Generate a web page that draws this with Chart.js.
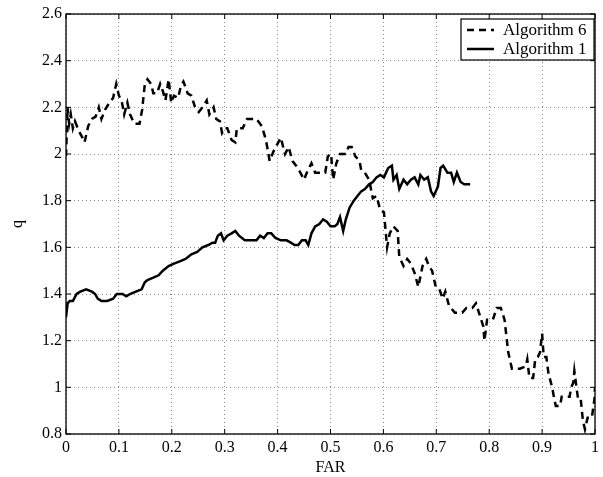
<!DOCTYPE html>
<html>
<head>
<meta charset="utf-8">
<script src="https://cdn.jsdelivr.net/npm/chart.js@4"></script>
<style>
  html, body { margin: 0; padding: 0; background: #fff; }
  #wrap { width: 603px; height: 477px; }
</style>
</head>
<body>
<div id="wrap"><canvas id="chart" width="603" height="477"></canvas></div>
<script>
// values
let alg6Far = [0.000, 0.003, 0.006, 0.009, 0.013, 0.017, 0.024, 0.031, 0.035, 0.042, 0.049, 0.056, 0.062, 0.067, 0.074, 0.082, 0.089, 0.095, 0.100, 0.105,
    0.110, 0.116, 0.121, 0.129, 0.139, 0.144, 0.149, 0.154, 0.161, 0.165, 0.172, 0.178, 0.183, 0.188, 0.194, 0.199, 0.204, 0.212, 0.217, 0.222,
    0.230, 0.237, 0.244, 0.251, 0.258, 0.266, 0.271, 0.279, 0.284, 0.291, 0.295, 0.300, 0.305, 0.313, 0.320, 0.323, 0.334, 0.342, 0.360, 0.370,
    0.378, 0.385, 0.392, 0.399, 0.406, 0.414, 0.421, 0.428, 0.435, 0.443, 0.450, 0.457, 0.464, 0.471, 0.490, 0.495, 0.501, 0.505, 0.511, 0.518,
    0.529, 0.534, 0.540, 0.547, 0.555, 0.558, 0.565, 0.573, 0.580, 0.587, 0.594, 0.601, 0.607, 0.612, 0.619, 0.627, 0.630, 0.638, 0.645, 0.652,
    0.659, 0.666, 0.674, 0.681, 0.686, 0.692, 0.699, 0.706, 0.712, 0.717, 0.724, 0.735, 0.749, 0.757, 0.768, 0.775, 0.782, 0.789, 0.791, 0.796,
    0.807, 0.814, 0.822, 0.829, 0.836, 0.843, 0.858, 0.869, 0.872, 0.876, 0.883, 0.887, 0.892, 0.896, 0.900, 0.903, 0.908, 0.912, 0.919, 0.923,
    0.926, 0.934, 0.937, 0.952, 0.955, 0.959, 0.961, 0.965, 0.968, 0.973, 0.977, 0.981, 0.986, 0.994, 0.999, 1.000];
let alg6Q = [1.99, 2.20, 2.13, 2.17, 2.11, 2.14, 2.10, 2.07, 2.05, 2.12, 2.15, 2.16, 2.20, 2.15, 2.19, 2.22, 2.24, 2.30, 2.25, 2.23,
    2.17, 2.22, 2.17, 2.13, 2.13, 2.19, 2.30, 2.32, 2.30, 2.26, 2.26, 2.30, 2.27, 2.23, 2.32, 2.22, 2.25, 2.24, 2.29, 2.31,
    2.26, 2.25, 2.20, 2.18, 2.20, 2.23, 2.17, 2.20, 2.15, 2.14, 2.09, 2.11, 2.11, 2.06, 2.05, 2.11, 2.11, 2.15, 2.15, 2.12,
    2.06, 1.97, 2.01, 2.04, 2.07, 2.00, 2.03, 1.97, 1.95, 1.92, 1.89, 1.93, 1.96, 1.92, 1.92, 1.99, 2.00, 1.89, 1.96, 2.00,
    2.00, 2.03, 2.03, 1.99, 1.97, 1.93, 1.92, 1.89, 1.81, 1.82, 1.76, 1.75, 1.60, 1.66, 1.69, 1.67, 1.56, 1.52, 1.55, 1.53,
    1.49, 1.43, 1.52, 1.55, 1.52, 1.50, 1.43, 1.42, 1.38, 1.41, 1.35, 1.32, 1.32, 1.34, 1.34, 1.36, 1.31, 1.26, 1.20, 1.29,
    1.29, 1.34, 1.34, 1.29, 1.15, 1.08, 1.08, 1.09, 1.12, 1.04, 1.04, 1.12, 1.13, 1.15, 1.23, 1.13, 1.13, 1.06, 1.00, 0.95,
    0.92, 0.92, 0.96, 0.96, 1.00, 1.02, 1.07, 1.00, 0.95, 0.95, 0.86, 0.82, 0.87, 0.87, 0.95, 1.00];

let alg1Far = [0.000, 0.003, 0.007, 0.013, 0.020, 0.027, 0.038, 0.049, 0.055, 0.060, 0.067, 0.078, 0.089, 0.096, 0.107, 0.114, 0.121, 0.132, 0.143, 0.149,
    0.154, 0.165, 0.175, 0.183, 0.194, 0.204, 0.215, 0.226, 0.237, 0.248, 0.258, 0.269, 0.277, 0.282, 0.287, 0.293, 0.298, 0.305, 0.313, 0.320,
    0.327, 0.338, 0.349, 0.360, 0.367, 0.374, 0.381, 0.388, 0.396, 0.406, 0.417, 0.425, 0.432, 0.439, 0.446, 0.453, 0.458, 0.464, 0.471, 0.479,
    0.486, 0.493, 0.500, 0.508, 0.513, 0.518, 0.524, 0.529, 0.536, 0.544, 0.551, 0.558, 0.565, 0.573, 0.580, 0.587, 0.594, 0.601, 0.609, 0.616,
    0.619, 0.625, 0.630, 0.638, 0.645, 0.652, 0.659, 0.666, 0.670, 0.677, 0.684, 0.690, 0.695, 0.703, 0.708, 0.713, 0.721, 0.728, 0.733, 0.739,
    0.746, 0.753, 0.764];
let alg1Q = [1.30, 1.36, 1.37, 1.37, 1.40, 1.41, 1.42, 1.41, 1.40, 1.38, 1.37, 1.37, 1.38, 1.40, 1.40, 1.39, 1.40, 1.41, 1.42, 1.45,
    1.46, 1.47, 1.48, 1.50, 1.52, 1.53, 1.54, 1.55, 1.57, 1.58, 1.60, 1.61, 1.62, 1.62, 1.65, 1.66, 1.63, 1.65, 1.66, 1.67,
    1.65, 1.63, 1.63, 1.63, 1.65, 1.64, 1.66, 1.66, 1.64, 1.63, 1.63, 1.62, 1.61, 1.61, 1.63, 1.63, 1.61, 1.66, 1.69, 1.70,
    1.72, 1.71, 1.69, 1.69, 1.70, 1.73, 1.67, 1.72, 1.77, 1.80, 1.82, 1.84, 1.85, 1.87, 1.88, 1.90, 1.91, 1.90, 1.94, 1.95,
    1.89, 1.91, 1.85, 1.89, 1.87, 1.89, 1.90, 1.87, 1.91, 1.89, 1.90, 1.84, 1.82, 1.86, 1.94, 1.95, 1.92, 1.92, 1.88, 1.92,
    1.88, 1.87, 1.87];

let seriesNames = ['Algorithm 6', 'Algorithm 1'];
let xTicks = [0, 0.1, 0.2, 0.3, 0.4, 0.5, 0.6, 0.7, 0.8, 0.9, 1];
let yTicks = [0.8, 1, 1.2, 1.4, 1.6, 1.8, 2, 2.2, 2.4, 2.6];

const FONT = '"Liberation Serif", "Times New Roman", serif';

function toPoints(xs, ys) {
    return xs.map((x, i) => ({ x: x, y: ys[i] }));
}

function fmt(v) {
    return String(Number(v.toFixed(1)));
}

// frame with inward ticks on all four sides, like matlab
const framePlugin = {
    id: 'frame',
    afterDatasetsDraw(chart) {
        let ctx = chart.ctx;
        let a = chart.chartArea;
        let xs = chart.scales.x, ys = chart.scales.y;
        ctx.save();
        ctx.strokeStyle = '#000';
        ctx.lineWidth = 1.3;
        ctx.strokeRect(a.left, a.top, a.right - a.left, a.bottom - a.top);
        ctx.beginPath();
        xTicks.forEach(v => {
            let px = xs.getPixelForValue(v);
            ctx.moveTo(px, a.bottom); ctx.lineTo(px, a.bottom - 5);
            ctx.moveTo(px, a.top); ctx.lineTo(px, a.top + 5);
        });
        yTicks.forEach(v => {
            let py = ys.getPixelForValue(v);
            ctx.moveTo(a.left, py); ctx.lineTo(a.left + 5, py);
            ctx.moveTo(a.right, py); ctx.lineTo(a.right - 5, py);
        });
        ctx.lineWidth = 1;
        ctx.stroke();
        ctx.restore();
    }
};

// boxed legend in the top right corner
const legendPlugin = {
    id: 'boxLegend',
    afterDraw(chart) {
        let ctx = chart.ctx;
        let x0 = 461, y0 = 19, w = 133, h = 41;
        ctx.save();
        ctx.fillStyle = '#fff';
        ctx.fillRect(x0, y0, w, h);
        ctx.strokeStyle = '#000';
        ctx.lineWidth = 1.2;
        ctx.strokeRect(x0, y0, w, h);
        chart.data.datasets.forEach((ds, i) => {
            let yy = y0 + 11 + i * 19;
            ctx.beginPath();
            ctx.setLineDash(ds.borderDash || []);
            ctx.lineWidth = 2.5;
            ctx.strokeStyle = '#000';
            ctx.moveTo(467, yy);
            ctx.lineTo(494, yy);
            ctx.stroke();
            ctx.setLineDash([]);
            ctx.fillStyle = '#000';
            ctx.font = '17px ' + FONT;
            ctx.textBaseline = 'middle';
            ctx.fillText(ds.label, 503, yy + 1);
        });
        ctx.restore();
    }
};

let ctx = document.getElementById('chart').getContext('2d');
let chart = new Chart(ctx, {
    type: 'line',
    data: {
        datasets: [{
            label: seriesNames[0],
            data: toPoints(alg6Far, alg6Q),
            borderColor: '#000',
            borderWidth: 2.5,
            borderDash: [7, 5],
            pointRadius: 0,
            tension: 0,
            fill: false
        }, {
            label: seriesNames[1],
            data: toPoints(alg1Far, alg1Q),
            borderColor: '#000',
            borderWidth: 2.5,
            pointRadius: 0,
            tension: 0,
            fill: false
        }]
    },
    options: {
        responsive: false,
        animation: false,
        layout: {
            padding: { top: 14, right: 4, left: 0, bottom: 0 }
        },
        plugins: {
            legend: { display: false },
            tooltip: { enabled: false }
        },
        scales: {
            x: {
                type: 'linear',
                min: 0,
                max: 1,
                afterBuildTicks: scale => { scale.ticks = xTicks.map(v => ({ value: v })); },
                afterFit: scale => { scale.height = 43; },
                ticks: {
                    color: '#000',
                    font: { family: FONT, size: 16 },
                    padding: 4,
                    maxRotation: 0,
                    callback: v => fmt(v)
                },
                grid: { color: '#888', drawTicks: false, lineWidth: 1 },
                border: { display: false, dash: [1, 3] },
                title: {
                    display: true,
                    text: 'FAR',
                    color: '#000',
                    font: { family: FONT, size: 16 },
                    padding: { top: 0, bottom: 0 }
                }
            },
            y: {
                type: 'linear',
                min: 0.8,
                max: 2.6,
                afterBuildTicks: scale => { scale.ticks = yTicks.map(v => ({ value: v })); },
                afterFit: scale => { scale.width = 66; },
                ticks: {
                    color: '#000',
                    font: { family: FONT, size: 16 },
                    padding: 4,
                    callback: v => fmt(v)
                },
                grid: { color: '#888', drawTicks: false, lineWidth: 1 },
                border: { display: false, dash: [1, 3] },
                title: {
                    display: true,
                    text: 'q',
                    color: '#000',
                    font: { family: FONT, size: 16 },
                    padding: { top: 8, bottom: 0 }
                }
            }
        }
    },
    plugins: [framePlugin, legendPlugin]
});
</script>
</body>
</html>
